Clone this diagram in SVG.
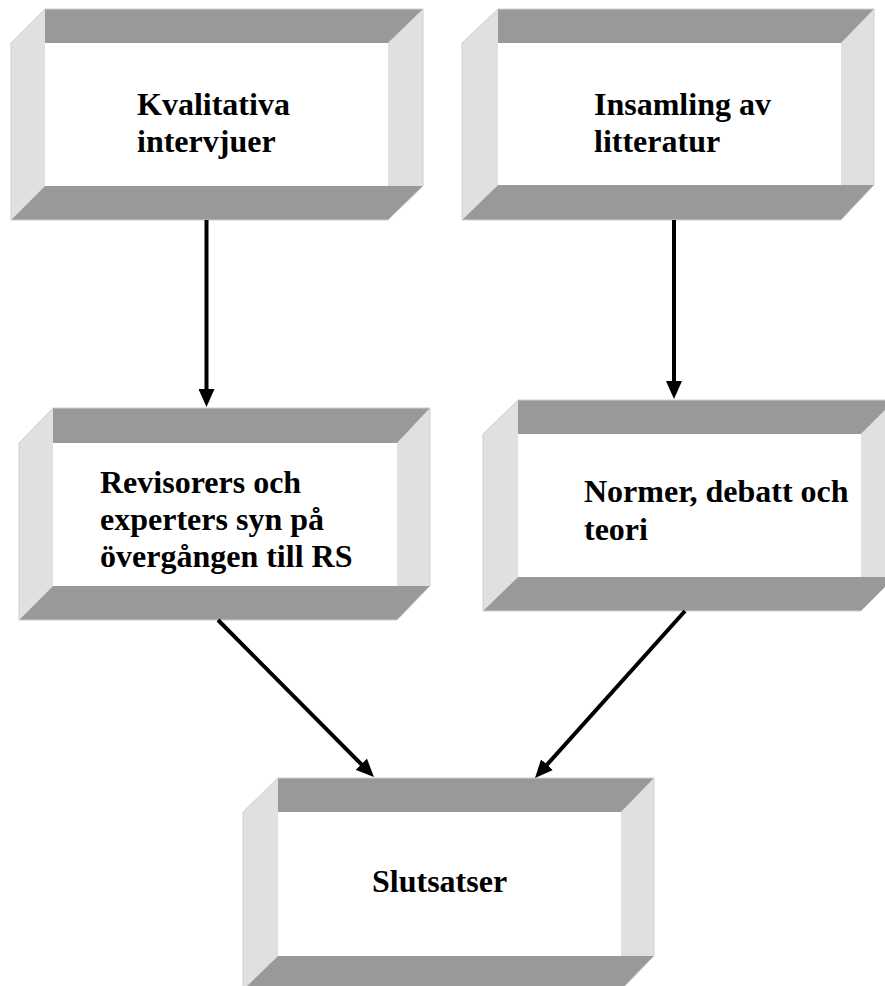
<svg xmlns="http://www.w3.org/2000/svg" width="885" height="986" viewBox="0 0 885 986">
<style>
.band{fill:#999999}
.side{fill:#e0e0e0}
.front{fill:#ffffff}
.edge{fill:none;stroke:#cfcfcf;stroke-width:1}
.lbl{font-family:"Liberation Serif","Times New Roman",serif;font-weight:bold;font-size:32px;fill:#000}
.conn{stroke:#000;stroke-width:4;fill:none;marker-end:url(#ah)}
</style>
<defs>
<marker id="ah" viewBox="0 0 18 16" refX="8" refY="8" markerWidth="18" markerHeight="16" markerUnits="userSpaceOnUse" orient="auto">
<path d="M0,0 L18,8 L0,16 z" fill="#000"/>
</marker>
</defs>
<rect width="885" height="986" fill="#fff"/>
<g id="n1">
<polygon class="side" points="11,43 45,9 45,186 11,220"/>
<polygon class="side" points="388,43 423,9 423,186 388,186"/>
<polygon class="band" points="45,9 423,9 388,43 45,43"/>
<polygon class="band" points="45,186 423,186 388,220 11,220"/>
<rect class="front" x="45" y="43" width="343" height="143"/>
<polygon class="edge" points="11,43 45,9 423,9 423,186 388,220 11,220"/>
<text class="lbl" x="137" y="115">Kvalitativa</text>
<text class="lbl" x="137" y="152">intervjuer</text>
</g>
<g id="n2">
<polygon class="side" points="462,43 498,9 498,185 462,220"/>
<polygon class="side" points="841,43 874,9 874,185 841,185"/>
<polygon class="band" points="498,9 874,9 841,43 498,43"/>
<polygon class="band" points="498,185 874,185 841,220 462,220"/>
<rect class="front" x="498" y="43" width="343" height="142"/>
<polygon class="edge" points="462,43 498,9 874,9 874,185 841,220 462,220"/>
<text class="lbl" x="594" y="115">Insamling av</text>
<text class="lbl" x="594" y="152">litteratur</text>
</g>
<g id="n3">
<polygon class="side" points="19,443 53,408 53,586 19,620"/>
<polygon class="side" points="397,443 430,408 430,586 397,586"/>
<polygon class="band" points="53,408 430,408 397,443 53,443"/>
<polygon class="band" points="53,586 430,586 397,620 19,620"/>
<rect class="front" x="53" y="443" width="344" height="143"/>
<polygon class="edge" points="19,443 53,408 430,408 430,586 397,620 19,620"/>
<text class="lbl" x="100" y="493">Revisorers och</text>
<text class="lbl" x="100" y="530">experters syn på</text>
<text class="lbl" x="100" y="567">övergången till RS</text>
</g>
<g id="n4">
<polygon class="side" points="483,434 518,400 518,577 483,611"/>
<polygon class="side" points="861,434 895,400 895,577 861,577"/>
<polygon class="band" points="518,400 895,400 861,434 518,434"/>
<polygon class="band" points="518,577 895,577 861,611 483,611"/>
<rect class="front" x="518" y="434" width="343" height="143"/>
<polygon class="edge" points="483,434 518,400 895,400 895,577 861,611 483,611"/>
<text class="lbl" x="584" y="502">Normer, debatt och</text>
<text class="lbl" x="584" y="540">teori</text>
</g>
<g id="n5">
<polygon class="side" points="243,812 278,778 278,956 243,990"/>
<polygon class="side" points="621,812 654,778 654,956 621,956"/>
<polygon class="band" points="278,778 654,778 621,812 278,812"/>
<polygon class="band" points="278,956 654,956 621,990 243,990"/>
<rect class="front" x="278" y="812" width="343" height="144"/>
<polygon class="edge" points="243,812 278,778 654,778 654,956 621,990 243,990"/>
<text class="lbl" x="372" y="892">Slutsatser</text>
</g>
<g id="connectors">
<line class="conn" x1="206.5" y1="220" x2="206.5" y2="397"/>
<line class="conn" x1="674" y1="220" x2="674" y2="389"/>
<line class="conn" x1="218" y1="620" x2="366.9" y2="769.9"/>
<line class="conn" x1="685" y1="611" x2="541.7" y2="770.6"/>
</g>
</svg>
